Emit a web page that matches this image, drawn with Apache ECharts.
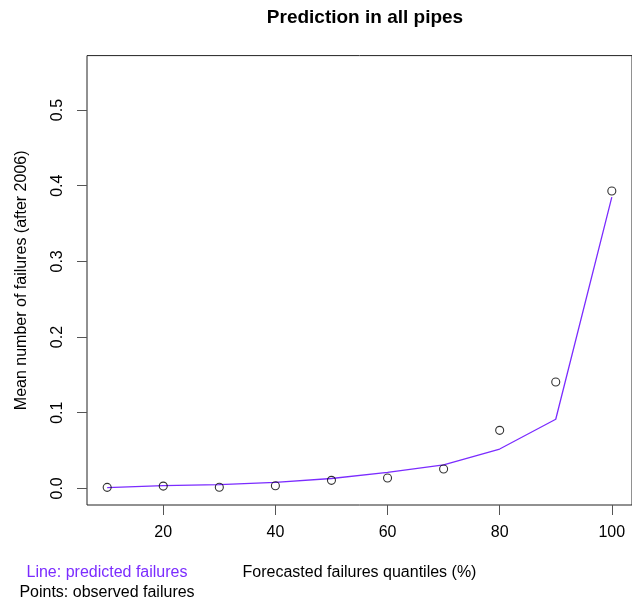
<!DOCTYPE html>
<html>
<head>
<meta charset="utf-8">
<script src="https://cdn.jsdelivr.net/npm/echarts@6/dist/echarts.min.js"></script>
<style>
  html, body { margin: 0; padding: 0; background: #fff; }
  #chart { width: 632px; height: 605px; }
</style>
</head>
<body>
<div id="chart"></div>
<script>
// Forecast quantiles (%) and mean failures per quantile
const quantiles = [10, 20, 30, 40, 50, 60, 70, 80, 90, 100];
const predicted = [0.001, 0.0035, 0.005, 0.008, 0.013, 0.021, 0.031, 0.052, 0.0913, 0.385];
const observed  = [0.0013, 0.003, 0.0015, 0.0035, 0.0106, 0.0137, 0.0256, 0.0767, 0.1406, 0.393];
const xTicks = [20, 40, 60, 80, 100];
const yTicks = [0, 0.1, 0.2, 0.3, 0.4, 0.5];

const purple = '#7b2cff';
const font = 'Liberation Sans, Arial, Helvetica, sans-serif';

const chart = echarts.init(document.getElementById('chart'), null, { renderer: 'canvas' });

chart.setOption({
  animation: false,
  backgroundColor: '#ffffff',
  title: {
    text: 'Prediction in all pipes',
    left: 360,
    top: 3,
    textAlign: 'center',
    textStyle: { fontFamily: font, fontSize: 19, fontWeight: 'bold', color: '#000' }
  },
  grid: {
    left: 87, top: 55.6, right: -1, bottom: 100,
    show: true, borderColor: '#222', borderWidth: 1, backgroundColor: 'transparent'
  },
  xAxis: {
    type: 'value',
    min: 6.4, max: 103.6,
    name: 'Forecasted failures quantiles (%)',
    nameLocation: 'middle',
    nameGap: 60,
    nameTextStyle: { fontFamily: font, fontSize: 16, color: '#000' },
    axisLine: { show: false, onZero: false },
    splitLine: { show: false },
    axisTick: { show: true, inside: false, length: 10, customValues: xTicks,
                lineStyle: { color: '#555', width: 1 } },
    axisLabel: { customValues: xTicks, margin: 20,
                 fontFamily: font, fontSize: 16, color: '#000' }
  },
  yAxis: {
    type: 'value',
    min: -0.022, max: 0.572,
    name: 'Mean number of failures (after 2006)',
    nameLocation: 'middle',
    nameRotate: 90,
    nameGap: 57,
    nameTextStyle: { fontFamily: font, fontSize: 16, color: '#000' },
    axisLine: { show: false, onZero: false },
    splitLine: { show: false },
    axisTick: { show: true, inside: false, length: 10, customValues: yTicks,
                lineStyle: { color: '#555', width: 1 } },
    axisLabel: { customValues: yTicks, margin: 21, rotate: 90,
                 formatter: v => v.toFixed(1),
                 fontFamily: font, fontSize: 16, color: '#000' }
  },
  graphic: [
    { type: 'text', x: 107, y: 573,
      style: { text: 'Line: predicted failures', fill: purple, font: '16px ' + font,
               textAlign: 'center', textVerticalAlign: 'middle' } },
    { type: 'text', x: 107, y: 593,
      style: { text: 'Points: observed failures', fill: '#000', font: '16px ' + font,
               textAlign: 'center', textVerticalAlign: 'middle' } }
  ],
  series: [
    {
      name: 'predicted',
      type: 'line',
      data: quantiles.map((q, i) => [q, predicted[i]]),
      showSymbol: false,
      lineStyle: { color: purple, width: 1.3 },
      z: 2
    },
    {
      name: 'observed',
      type: 'scatter',
      data: quantiles.map((q, i) => [q, observed[i]]),
      symbol: 'circle',
      symbolSize: 8,
      itemStyle: { color: 'rgba(0,0,0,0)', borderColor: '#000', borderWidth: 1.1 },
      z: 3
    }
  ]
});
</script>
</body>
</html>
